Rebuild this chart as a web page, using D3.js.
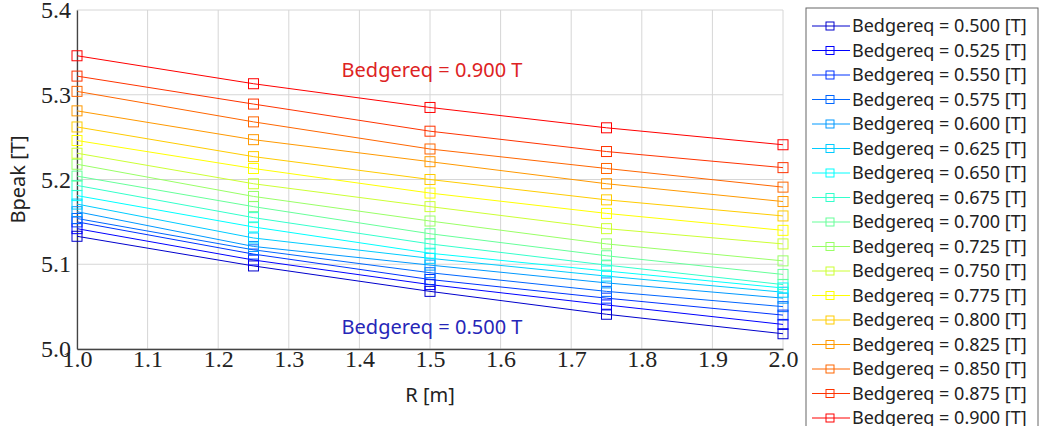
<!DOCTYPE html>
<html>
<head>
<meta charset="utf-8">
<script src="https://cdn.jsdelivr.net/npm/d3@7"></script>
<style>
  body { margin: 0; background: #fff; }
  .tick text { font-family: "Liberation Serif", serif; font-size: 24px; fill: #222; }
  .lbl { font-family: "Noto Sans", sans-serif; font-size: 20px; fill: #222; }
</style>
</head>
<body>
<div id="chart"></div>
<script>
// R positions along the x axis
var radii = [1.0, 1.25, 1.5, 1.75, 2.0];
var bedgereq = [0.500, 0.525, 0.550, 0.575, 0.600, 0.625, 0.650, 0.675, 0.700,
                0.725, 0.750, 0.775, 0.800, 0.825, 0.850, 0.875, 0.900];
// Bpeak [T] for each Bedgereq (one row per series)
var bpeak = [
  [5.133, 5.098, 5.068, 5.041, 5.018],
  [5.142, 5.105, 5.076, 5.052, 5.029],
  [5.150, 5.112, 5.082, 5.060, 5.040],
  [5.154, 5.117, 5.090, 5.068, 5.050],
  [5.162, 5.121, 5.099, 5.078, 5.060],
  [5.171, 5.131, 5.107, 5.086, 5.067],
  [5.181, 5.144, 5.113, 5.092, 5.072],
  [5.193, 5.155, 5.124, 5.099, 5.076],
  [5.204, 5.168, 5.136, 5.110, 5.088],
  [5.218, 5.180, 5.151, 5.124, 5.104],
  [5.231, 5.195, 5.168, 5.142, 5.124],
  [5.246, 5.213, 5.184, 5.160, 5.140],
  [5.262, 5.227, 5.200, 5.176, 5.157],
  [5.281, 5.247, 5.221, 5.195, 5.174],
  [5.304, 5.268, 5.236, 5.213, 5.191],
  [5.322, 5.289, 5.257, 5.233, 5.214],
  [5.346, 5.313, 5.285, 5.261, 5.241]
];
var xTicks = [1.0, 1.1, 1.2, 1.3, 1.4, 1.5, 1.6, 1.7, 1.8, 1.9, 2.0];
var yTicks = [5.0, 5.1, 5.2, 5.3, 5.4];

var width = 1051, height = 426;
var margin = {left: 77, right: 268, top: 10, bottom: 77};

var svg = d3.select("#chart").append("svg")
  .attr("width", width)
  .attr("height", height);

var x = d3.scaleLinear().domain([1.0, 2.0]).range([margin.left, width - margin.right]);
var y = d3.scaleLinear().domain([5.0, 5.4]).range([height - margin.bottom, margin.top]);

// jet-like colours, blue -> red
function jet(t) {
  var c = function(v) { return Math.round(255 * Math.max(0, Math.min(1, v))); };
  return "rgb(" + c(1.5 - Math.abs(4 * t - 3)) + "," + c(1.5 - Math.abs(4 * t - 2)) + "," + c(1.5 - Math.abs(4 * t - 1)) + ")";
}
var color = function(i) { return jet(0.075 + 0.05 * i); };

// grid
svg.append("g")
  .selectAll("line")
  .data(xTicks)
  .enter().append("line")
    .attr("x1", function(d) { return x(d); })
    .attr("x2", function(d) { return x(d); })
    .attr("y1", y(5.0)).attr("y2", y(5.4))
    .attr("stroke", "#d6d6d6").attr("stroke-width", 1);
svg.append("g")
  .selectAll("line")
  .data(yTicks)
  .enter().append("line")
    .attr("y1", function(d) { return y(d); })
    .attr("y2", function(d) { return y(d); })
    .attr("x1", x(1.0)).attr("x2", x(2.0))
    .attr("stroke", "#d6d6d6").attr("stroke-width", 1);

// axes
var xAxis = svg.append("g")
  .attr("transform", "translate(0," + y(5.0) + ")")
  .call(d3.axisBottom(x).tickValues(xTicks).tickFormat(d3.format(".1f")).tickSize(0).tickPadding(1));
var yAxis = svg.append("g")
  .attr("transform", "translate(" + x(1.0) + ",0)")
  .call(d3.axisLeft(y).tickValues(yTicks).tickFormat(d3.format(".1f")).tickSize(0).tickPadding(6));
xAxis.select(".domain").attr("stroke", "#444").attr("stroke-width", 1.3);
yAxis.select(".domain").attr("stroke", "#444").attr("stroke-width", 1.3);

svg.append("text").attr("class", "lbl")
  .attr("x", x(1.5)).attr("y", 402)
  .attr("text-anchor", "middle")
  .text("R [m]");
svg.append("text").attr("class", "lbl")
  .attr("transform", "translate(25," + y(5.2) + ") rotate(-90)")
  .attr("text-anchor", "middle")
  .text("Bpeak [T]");

// series
var line = d3.line()
  .x(function(d, j) { return x(radii[j]); })
  .y(function(d) { return y(d); });

var series = svg.append("g")
  .selectAll("g")
  .data(bpeak)
  .enter().append("g");

series.append("path")
  .attr("d", function(d) { return line(d); })
  .attr("fill", "none")
  .attr("stroke", function(d, i) { return color(i); })
  .attr("stroke-width", 1);

series.each(function(d, i) {
  d3.select(this).selectAll("rect")
    .data(d)
    .enter().append("rect")
      .attr("x", function(v, j) { return x(radii[j]) - 5; })
      .attr("y", function(v) { return y(v) - 5; })
      .attr("width", 10).attr("height", 10)
      .attr("fill", "none")
      .attr("stroke", color(i))
      .attr("stroke-width", 1);
});

// annotations
svg.append("text").attr("class", "lbl")
  .attr("x", x(1.5) + 2).attr("y", y(5.33))
  .attr("text-anchor", "middle").attr("dominant-baseline", "central")
  .style("fill", "#dd2222")
  .text("Bedgereq = " + d3.format(".3f")(bedgereq[16]) + " T");
svg.append("text").attr("class", "lbl")
  .attr("x", x(1.5) + 2).attr("y", y(5.026))
  .attr("text-anchor", "middle").attr("dominant-baseline", "central")
  .style("fill", "#2626b8")
  .text("Bedgereq = " + d3.format(".3f")(bedgereq[0]) + " T");

// legend
var legend = svg.append("g").attr("transform", "translate(806,8)");
legend.append("rect")
  .attr("width", 232).attr("height", 430)
  .attr("fill", "#fff").attr("stroke", "#666").attr("stroke-width", 1);

var item = legend.selectAll("g.item")
  .data(bedgereq)
  .enter().append("g")
    .attr("transform", function(d, i) { return "translate(0," + (18 + i * 24.5) + ")"; });

item.append("line")
  .attr("x1", 6).attr("x2", 44)
  .attr("stroke", function(d, i) { return color(i); });
item.append("rect")
  .attr("x", 20).attr("y", -4).attr("width", 8).attr("height", 8)
  .attr("fill", "none")
  .attr("stroke", function(d, i) { return color(i); });
item.append("text")
  .attr("x", 46).attr("dy", "0.35em")
  .style("font-family", "Noto Sans, sans-serif").style("font-size", "18px").style("fill", "#222")
  .text(function(d) { return "Bedgereq = " + d3.format(".3f")(d) + " [T]"; });
</script>
</body>
</html>
